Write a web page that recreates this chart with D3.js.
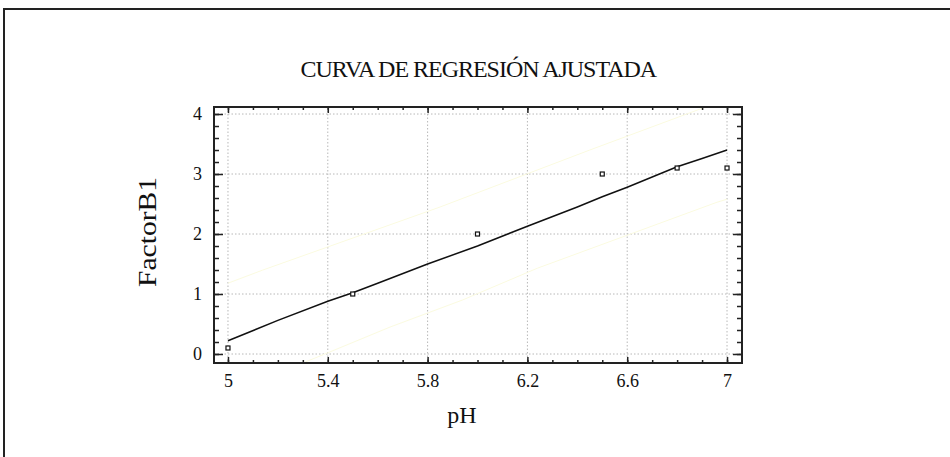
<!DOCTYPE html>
<html>
<head>
<meta charset="utf-8">
<script src="https://cdn.jsdelivr.net/npm/d3@7"></script>
<style>
  body { margin: 0; background: #fff; }
  svg { display: block; }
  svg text { font-family: "Liberation Serif", "DejaVu Serif", serif; fill: #111; }
</style>
</head>
<body>
<div id="chart"></div>
<script>
// Observaciones
const phValues = [5.0, 5.5, 6.0, 6.5, 6.8, 7.0];
const factorValues = [0.1, 1.0, 2.0, 3.0, 3.1, 3.1];

// Curva ajustada
const fitPh = [5.0, 5.2, 5.4, 5.5, 5.6, 5.8, 6.0, 6.2, 6.4, 6.5, 6.6, 6.8, 6.9, 7.0];
const fitValues = [0.22, 0.56, 0.88, 1.02, 1.18, 1.5, 1.8, 2.13, 2.45, 2.62, 2.78, 3.12, 3.26, 3.4];

// Límites (líneas amarillas tenues)
const upperPh = [5.0, 5.14, 5.85, 6.45, 7.0];
const upperValues = [1.18, 1.4, 2.45, 3.4, 4.25];
const lowerPh = [5.3, 5.4, 5.65, 5.94, 6.24, 6.96, 7.0];
const lowerValues = [-0.15, 0.02, 0.45, 0.9, 1.43, 2.53, 2.58];

// Ticks
const xTicks = [5, 5.4, 5.8, 6.2, 6.6, 7];
const xMinor = d3.range(50, 71).map((d) => d / 10);
const yTicks = [0, 1, 2, 3, 4];
const yMinor = d3.range(0, 21).map((d) => d / 5);

const width = 950;
const height = 457;
const plot = { left: 214, top: 107, right: 742, bottom: 363 };
const serif = "Liberation Serif";

const svg = d3
  .select("#chart")
  .append("svg")
  .attr("width", width)
  .attr("height", height);

// Marco exterior
svg
  .append("rect")
  .attr("x", 4)
  .attr("y", 9)
  .attr("width", 980)
  .attr("height", 480)
  .attr("fill", "none")
  .attr("stroke", "#222")
  .attr("stroke-width", 2);

const x = d3.scaleLinear().domain([4.944, 7.06]).range([plot.left, plot.right]);
const y = d3.scaleLinear().domain([-0.15, 4.117]).range([plot.bottom, plot.top]);

svg
  .append("clipPath")
  .attr("id", "clip")
  .append("rect")
  .attr("x", plot.left)
  .attr("y", plot.top)
  .attr("width", plot.right - plot.left)
  .attr("height", plot.bottom - plot.top);

// Rejilla punteada
const grid = svg.append("g");
grid
  .selectAll("line.vx")
  .data(xTicks)
  .enter()
  .append("line")
  .attr("x1", (d) => x(d))
  .attr("x2", (d) => x(d))
  .attr("y1", plot.top)
  .attr("y2", plot.bottom)
  .attr("stroke", "#b8b8b8")
  .attr("stroke-dasharray", "1.5,2");
grid
  .selectAll("line.hy")
  .data(yTicks)
  .enter()
  .append("line")
  .attr("x1", plot.left)
  .attr("x2", plot.right)
  .attr("y1", (d) => y(d))
  .attr("y2", (d) => y(d))
  .attr("stroke", "#b8b8b8")
  .attr("stroke-dasharray", "1.5,2");

const line = d3
  .line()
  .x((d) => x(d[0]))
  .y((d) => y(d[1]));

const inner = svg.append("g").attr("clip-path", "url(#clip)");

// Límites tenues
[
  [upperPh, upperValues],
  [lowerPh, lowerValues],
].forEach(([xs, ys]) => {
  inner
    .append("path")
    .datum(d3.zip(xs, ys))
    .attr("d", line)
    .attr("fill", "none")
    .attr("stroke", "#fbfbe0")
    .attr("stroke-width", 1);
});

// Curva ajustada
inner
  .append("path")
  .datum(d3.zip(fitPh, fitValues))
  .attr("d", line)
  .attr("fill", "none")
  .attr("stroke", "#111")
  .attr("stroke-width", 1.5);

// Puntos
inner
  .selectAll("rect.pt")
  .data(d3.zip(phValues, factorValues))
  .enter()
  .append("rect")
  .attr("x", (d) => x(d[0]) - 2)
  .attr("y", (d) => y(d[1]) - 2)
  .attr("width", 4)
  .attr("height", 4)
  .attr("fill", "#fff")
  .attr("stroke", "#111")
  .attr("stroke-width", 1.2);

// Ejes con ticks hacia dentro
function drawAxis(axisFn, scale, ticks, size, transform, labels) {
  const g = svg
    .append("g")
    .attr("transform", transform)
    .call(
      axisFn(scale)
        .tickValues(ticks)
        .tickSize(-size)
        .tickSizeOuter(0)
        .tickFormat(labels ? d3.format("") : "")
    );
  g.select(".domain").remove();
  g.selectAll(".tick line").attr("stroke", "#222").attr("stroke-width", 1.5);
  return g;
}

drawAxis(d3.axisBottom, x, xMinor, 3, `translate(0,${plot.bottom})`, false);
drawAxis(d3.axisTop, x, xMinor, 3, `translate(0,${plot.top})`, false);
drawAxis(d3.axisTop, x, xTicks, 6, `translate(0,${plot.top})`, false);
const xAxis = drawAxis(d3.axisBottom, x, xTicks, 6, `translate(0,${plot.bottom})`, true);
xAxis
  .selectAll(".tick text")
  .attr("y", 24)
  .attr("dy", 0)
  .attr("font-size", 18)
  .attr("font-family", serif)
  .attr("fill", "#111");

drawAxis(d3.axisLeft, y, yMinor, 5, `translate(${plot.left},0)`, false);
drawAxis(d3.axisRight, y, yMinor, 5, `translate(${plot.right},0)`, false);
drawAxis(d3.axisRight, y, yTicks, 9, `translate(${plot.right},0)`, false);
const yAxis = drawAxis(d3.axisLeft, y, yTicks, 9, `translate(${plot.left},0)`, true);
yAxis
  .selectAll(".tick text")
  .attr("x", -12)
  .attr("dy", "0.33em")
  .attr("font-size", 18)
  .attr("font-family", serif)
  .attr("fill", "#111");

// Marco del gráfico
svg
  .append("rect")
  .attr("x", plot.left)
  .attr("y", plot.top)
  .attr("width", plot.right - plot.left)
  .attr("height", plot.bottom - plot.top)
  .attr("fill", "none")
  .attr("stroke", "#222")
  .attr("stroke-width", 2);

// Título y etiquetas
svg
  .append("text")
  .attr("x", 478)
  .attr("y", 77)
  .attr("text-anchor", "middle")
  .attr("font-family", serif)
  .attr("font-size", 24)
  .attr("letter-spacing", "-1.6px")
  .attr("textLength", 355)
  .attr("lengthAdjust", "spacing")
  .text("CURVA DE REGRESIÓN AJUSTADA");

svg
  .append("text")
  .attr("x", 462)
  .attr("y", 423)
  .attr("text-anchor", "middle")
  .attr("font-family", serif)
  .attr("font-size", 24)
  .text("pH");

svg
  .append("text")
  .attr("transform", "translate(156,232) rotate(-90)")
  .attr("text-anchor", "middle")
  .attr("font-family", serif)
  .attr("font-size", 26)
  .attr("textLength", 110)
  .attr("lengthAdjust", "spacingAndGlyphs")
  .text("FactorB1");
</script>
</body>
</html>
